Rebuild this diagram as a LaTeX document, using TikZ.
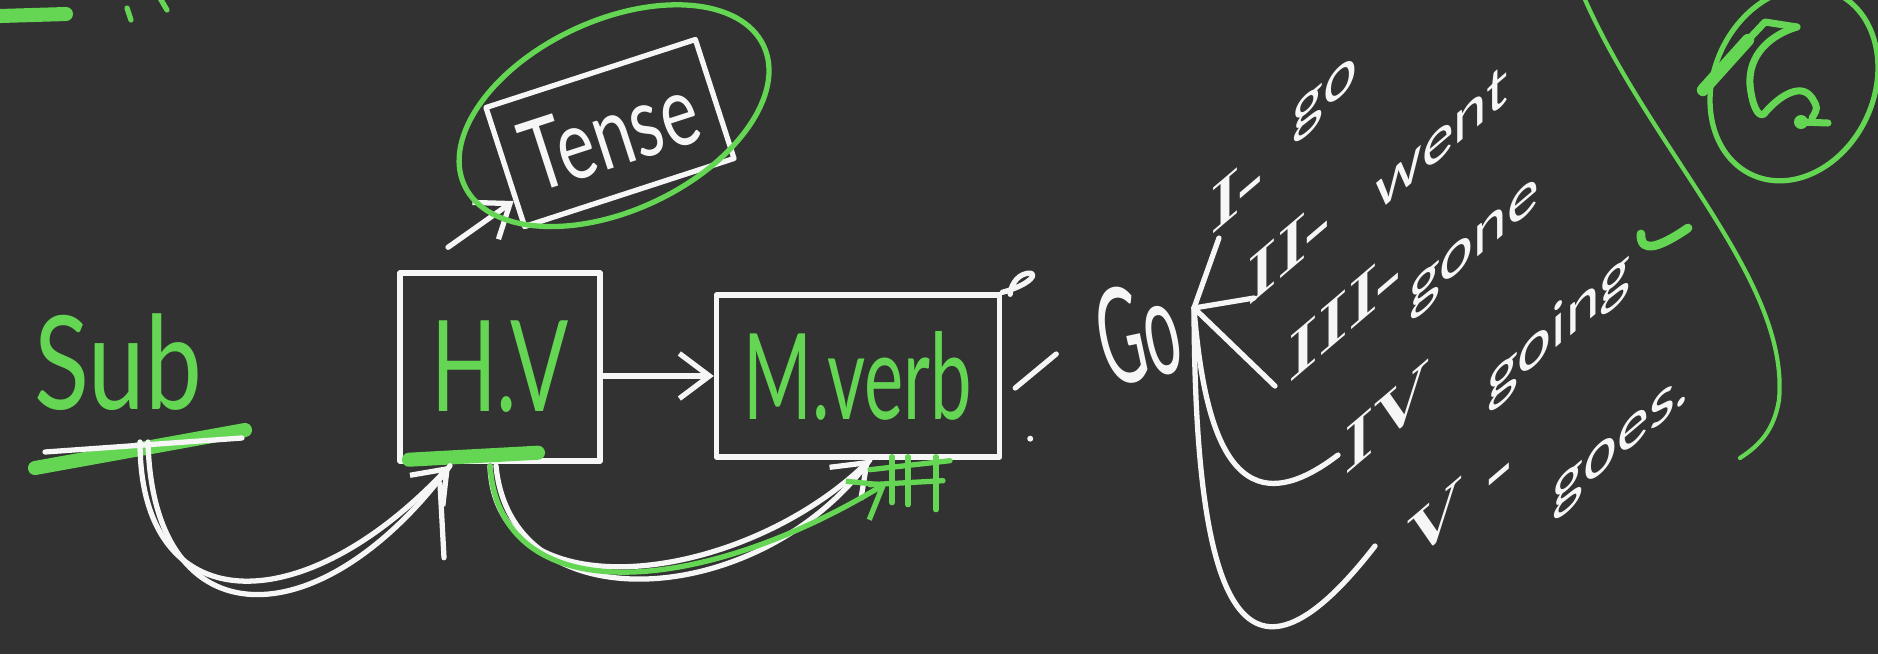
\documentclass[tikz,border=0pt]{standalone}
\usepackage{fontspec}
\usepackage{graphicx}
\usepackage{xcolor}
\usepackage{tikz}
\usetikzlibrary{arrows.meta}
\newfontfamily\hand{Lato}
\definecolor{board}{RGB}{50,50,50}
\definecolor{chalk}{RGB}{246,246,246}
\definecolor{marker}{RGB}{100,214,84}
\newcommand\hw[3]{\scalebox{#1}[1]{\hand\fontsize{#2}{#2}\selectfont #3}}

\begin{document}
\begin{tikzpicture}[x=0.01cm, y=-0.01cm,
            >={Straight Barb[length=3mm,width=4.5mm]},
            ink/.style={draw=chalk, line width=1.5pt, line cap=round, line join=round},
            hi/.style={draw=marker, line width=1.5pt, line cap=round, line join=round},
            wbox/.style={ink, inner sep=0pt},
            lbl/.style={text=chalk, inner sep=0pt},
            verb/.style={lbl, yslant=0.85},
            num/.style={lbl, yslant=0.85, font=\fontsize{19}{19}\selectfont\bfseries}
        ]
            \fill[board] (0,0) rectangle (1878,654);
            \useasboundingbox (0,0) rectangle (1878,654);
            % leftover marks
            \draw[hi, line width=4pt] (0,16) -- (66,14);
            \draw[hi] (127,8) -- (131,20);
            \draw[hi] (160,-2) -- (167,10);
            % words
            \node[lbl, text=marker] (sub) at (118,362) {\hw{0.78}{37}{Sub}};
            \node[wbox, text=marker, minimum width=2cm, minimum height=1.88cm] (hv) at (500,367) {\hw{0.68}{36}{H.V}};
            \node[wbox, text=marker, minimum width=2.83cm, minimum height=1.62cm] (mverb) at (858,376) {\hw{0.62}{34}{M.verb}};
            \node[wbox, text=chalk, rotate=18, minimum width=2.2cm, minimum height=1.25cm] (tense) at (610,133) {\hw{0.72}{28}{Tense}};
            \node[lbl, rotate=12] (go) at (1138,332) {\hw{0.47}{38}{Go}};
            % forms of go
            \node[num] (n1) at (1238,190) {I-};
            \node[num] (n2) at (1290,248) {II-};
            \node[num] (n3) at (1346,312) {III-};
            \node[num] (n4) at (1388,417) {IV};
            \node[num] (n5) at (1460,500) {V -};
            \node[verb] (w1) at (1325,100) {\hw{1}{17}{go}};
            \node[verb] (w2) at (1442,138) {\hw{1}{17}{went}};
            \node[verb] (w3) at (1474,250) {\hw{1}{17}{gone}};
            \node[verb] (w4) at (1559,329) {\hw{1}{17}{going}};
            \node[verb] (w5) at (1621,447) {\hw{1}{17}{goes.}};
            % underlines
            \draw[hi, line width=4pt] ([shift={(-83,106)}]sub.center) -- ([shift={(127,68)}]sub.center);
            \draw[ink] ([shift={(-73,90)}]sub.center) -- ([shift={(124,76)}]sub.center);
            \draw[hi, line width=4pt] ([shift={(-91,-4)}]hv.south) -- ([shift={(38,-11)}]hv.south);
            % end points
            \coordinate (subfoot) at ([shift={(22,80)}]sub.center);
            \coordinate (hvin) at ([shift={(-50,2)}]hv.south);
            \coordinate (hvtop) at ([shift={(-52,-23)}]hv.north);
            \coordinate (hvout) at ([shift={(-10,2)}]hv.south);
            \coordinate (mvin) at ([shift={(12,0)}]mverb.south);
            \coordinate (mvgreen) at ([shift={(29,23)}]mverb.south);
            \coordinate (fan) at (1194,308);
            % arrows
            \draw[ink, ->] (hvtop) -- (tense);
            \draw[ink, ->] (hv.east |- mverb.west) -- (mverb.west);
            \draw[ink, ->] (subfoot) .. controls +(0,178) and +(-150,159) .. (hvin);
            \draw[ink] ([shift={(8,0)}]subfoot) .. controls +(5,200) and +(-130,175) .. (hvin);
            \draw[ink] ([shift={(-10,18)}]hvin) -- ([shift={(-6,92)}]hvin);
            \draw[ink, ->] (hvout) .. controls +(5,150) and +(-130,125) .. (mvin);
            \draw[ink] ([shift={(6,0)}]hvout) .. controls +(15,160) and +(-110,150) .. (mvin);
            \draw[hi, ->] (hvout) .. controls +(10,145) and +(-190,115) .. (mvgreen);
            % hatching under M.verb
            \draw[hi] ([shift={(12,10)}]mverb.south) -- ([shift={(92,1)}]mverb.south);
            \draw[hi] ([shift={(12,25)}]mverb.south) -- ([shift={(85,21)}]mverb.south);
            \foreach \dx/\dy in {34/43,50/45,78/50}
                \draw[hi] ([shift={(\dx,-3)}]mverb.south) -- ([shift={(\dx,\dy)}]mverb.south);
            % curl on M.verb, dot, dash to Go
            \draw[ink] (mverb.north east) .. controls +(30,-8) and +(12,-2) .. ([shift={(25,-19)}]mverb.north east)
                .. controls +(-12,2) and +(0,-6) .. ([shift={(8,2)}]mverb.north east);
            \fill[chalk] ([shift={(28,-21)}]mverb.south east) circle [radius=0.03cm];
            \draw[ink] ([shift={(13,12)}]mverb.east) -- ([shift={(54,-22)}]mverb.east);
            % fan to the five forms
            \draw[ink] (fan) -- ([shift={(-19,48)}]n1.center);
            \draw[ink] (fan) -- ([shift={(-36,50)}]n2.center);
            \draw[ink] (fan) -- ([shift={(-71,74)}]n3.center);
            \draw[ink] (fan) .. controls +(11,140) and +(-98,75) .. ([shift={(-50,38)}]n4.center);
            \draw[ink] (fan) .. controls +(1,292) and +(-135,174) .. ([shift={(-85,46)}]n5.center);
            % ring round Tense
            \draw[hi, rotate around={25:(tense.center)}] ([shift={(11,-14)}]tense.center) ellipse [x radius=1.65cm, y radius=0.95cm];
            % right margin
            \draw[hi, line width=1.2pt] (1583,-5) .. controls (1650,150) and (1790,280) .. (1779,400)
                .. controls (1774,430) and (1760,445) .. (1740,458);
            \draw[hi, line width=2.5pt] (1641,234) .. controls (1640,255) and (1662,246) .. (1688,228);
            \draw[hi, rotate around={-25:(1794,84)}] (1794,84) ellipse [x radius=0.8cm, y radius=1cm];
            \draw[hi, line width=3.5pt] (1703,90) -- (1748,40);
            \draw[hi, line width=2pt] (1748,40) -- (1765,22) -- (1797,27);
            \draw[hi, line width=2pt] (1797,27) .. controls (1770,35) and (1748,55) .. (1750,85)
                .. controls (1752,105) and (1758,118) .. (1764,114)
                .. controls (1775,100) and (1800,80) .. (1812,98) .. controls (1818,108) .. (1812,118);
            \fill[marker] (1801,122) circle [radius=0.07cm];
            \draw[hi, line width=2pt] (1801,122) -- (1828,123);
        \end{tikzpicture}
\end{document}
